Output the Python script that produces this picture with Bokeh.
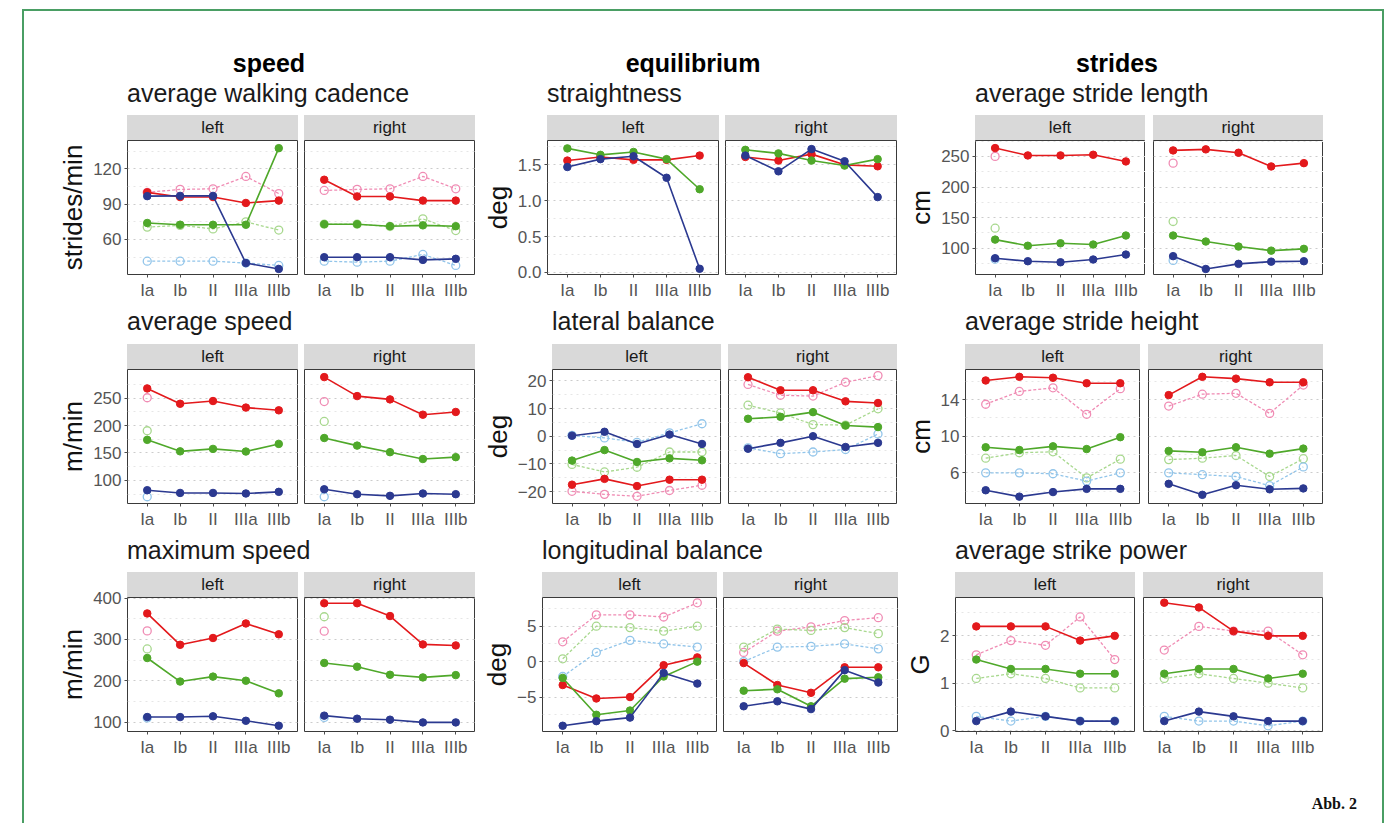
import numpy as np
from bokeh.plotting import figure
from bokeh.models import Range1d, FixedTicker, Grid, Div, Spacer, ColumnDataSource
from bokeh.layouts import row, column
from bokeh.embed import file_html
from bokeh.resources import INLINE

# ---------------- data ----------------
stages = ["Ia", "Ib", "II", "IIIa", "IIIb"]
facets = ["left", "right"]
N = None

# speed / average walking cadence (strides/min)
cadence_left = dict(red=[100, 96, 96, 91, 93], green=[74, 72.5, 72.5, 72.5, 137.5],
                    blue=[96.8, 97, 97, 40, 35], pink=[100, 102.5, 103, 113.5, 99],
                    lightgreen=[70.5, 72, 69, 75, 68], lightblue=[41.6, 41.6, 41.6, 40, 38])
cadence_right = dict(red=[110.7, 96.5, 96.5, 93, 93], green=[73, 73, 71.3, 72, 71.3],
                     blue=[45, 45, 45, 42.7, 43.6], pink=[101.6, 102.5, 103, 113.5, 103],
                     lightgreen=[73, 73, 71, 77.5, 67.6], lightblue=[41.6, 40.8, 41.6, 47.3, 38])
cadence_ticks = [60, 90, 120]
cadence_minor = [45, 75, 105, 135]

# equilibrium / straightness (deg)
straight_left = dict(red=[1.56, 1.61, 1.57, 1.57, 1.63], green=[1.73, 1.64, 1.68, 1.58, 1.16],
                     blue=[1.47, 1.58, 1.62, 1.32, 0.05])
straight_right = dict(red=[1.61, 1.56, 1.65, 1.50, 1.48], green=[1.71, 1.66, 1.56, 1.49, 1.58],
                      blue=[1.63, 1.41, 1.72, 1.55, 1.05])
straight_ticks = [0, 0.5, 1.0, 1.5]
straight_tick_labels = ["0.0", "0.5", "1.0", "1.5"]
straight_minor = [0.25, 0.75, 1.25, 1.75]

# strides / average stride length (cm)
length_left = dict(red=[263.6, 251.6, 251.6, 252.7, 241.8], green=[114, 104, 108, 106, 120.7],
                   blue=[83.6, 78.7, 77, 81.5, 89.6], pink=[250, N, N, N, N],
                   lightgreen=[132.7, N, N, N, N], lightblue=[82, N, N, N, N])
length_right = dict(red=[259.8, 261.5, 256, 233.6, 239], green=[120.7, 110.9, 102.7, 96, 98.9],
                    blue=[87, 66, 74.4, 78, 78.7], pink=[239, N, N, N, N],
                    lightgreen=[143.6, N, N, N, N], lightblue=[80, N, N, N, N])
length_ticks = [100, 150, 200, 250]
length_minor = [75, 125, 175, 225, 275]

# speed / average speed (m/min)
speed_left = dict(red=[268, 240, 245, 233, 228], green=[174, 153, 157.5, 152.7, 166.6],
                  blue=[82, 77, 77, 76, 79], pink=[251, N, N, N, N],
                  lightgreen=[190.7, N, N, N, N], lightblue=[70, N, N, N, N])
speed_right = dict(red=[288.7, 254, 248, 220, 225], green=[177.4, 163.5, 151.5, 139, 142.4],
                   blue=[83.7, 74.7, 71.7, 76, 74.7], pink=[244, N, N, N, N],
                   lightgreen=[207.7, N, N, N, N], lightblue=[70, N, N, N, N])
speed_ticks = [100, 150, 200, 250]
speed_minor = [75, 125, 175, 225, 275]

# equilibrium / lateral balance (deg)
lateral_left = dict(red=[-17.5, -15.4, -18, -15.7, -15.7], green=[-8.8, -5, -9.3, -8, -8.7],
                    blue=[0.2, 1.6, -2.8, 0.6, -2.8], pink=[-19.9, -21, -21.7, -19.6, -17.7],
                    lightgreen=[-10.2, -12.9, -11.2, -5.7, -5.7], lightblue=[0.3, -0.6, -2.2, 1.2, 4.5])
lateral_right = dict(red=[21.3, 16.6, 16.6, 12.6, 12], green=[6.3, 7, 8.7, 3.9, 3.3],
                     blue=[-4.5, -2.4, 0, -3.9, -2.4], pink=[18.7, 14.8, 14.5, 19.5, 21.9],
                     lightgreen=[11.2, 8.4, 4.2, 4, 9.9], lightblue=[-4.2, -6.3, -5.7, -4.8, 0.8])
lateral_ticks = [-20, -10, 0, 10, 20]
lateral_minor = [-15, -5, 5, 15]

# strides / average stride height (cm)
height_left = dict(red=[16.1, 16.5, 16.4, 15.8, 15.8], green=[8.8, 8.5, 8.9, 8.6, 9.9],
                   blue=[4.1, 3.4, 3.9, 4.25, 4.25], pink=[13.5, 14.9, 15.3, 12.4, 15.2],
                   lightgreen=[7.6, 8.2, 8.3, 5.45, 7.5], lightblue=[6, 6, 5.9, 5.1, 6])
height_right = dict(red=[14.5, 16.5, 16.3, 15.9, 15.9], green=[8.4, 8.25, 8.8, 8.1, 8.65],
                    blue=[4.8, 3.6, 4.65, 4.2, 4.3], pink=[13.3, 14.6, 14.7, 12.5, 15.6],
                    lightgreen=[7.45, 7.6, 7.9, 5.6, 7.55], lightblue=[6, 5.8, 5.6, 4.6, 6.65])
height_ticks = [6, 10, 14]
height_minor = [4, 8, 12, 16]

# speed / maximum speed (m/min)
maxspeed_left = dict(red=[363, 287, 303.5, 338.7, 312.5], green=[255, 198, 210, 200, 169.4],
                     blue=[112, 112, 113.8, 103, 91], pink=[320.7, N, N, N, N],
                     lightgreen=[277, N, N, N, N], lightblue=[110, N, N, N, N])
maxspeed_right = dict(red=[387.7, 387.7, 356.7, 288, 285.5], green=[243, 234, 214.4, 208, 213.6],
                      blue=[115.4, 108, 105.6, 99, 99], pink=[320, N, N, N, N],
                      lightgreen=[355, N, N, N, N], lightblue=[111, N, N, N, N])
maxspeed_ticks = [100, 200, 300, 400]
maxspeed_minor = [150, 250, 350]

# equilibrium / longitudinal balance (deg)
longit_left = dict(red=[-3.3, -5.2, -5.0, -0.5, 0.6], green=[-2.3, -7.5, -6.9, -2.1, 0.0],
                   blue=[-9.05, -8.4, -7.9, -1.6, -3.1], pink=[2.8, 6.6, 6.6, 6.3, 8.3],
                   lightgreen=[0.4, 5.0, 4.8, 4.3, 5.0], lightblue=[-2.1, 1.3, 3.0, 2.5, 2.05])
longit_right = dict(red=[-0.2, -3.3, -4.4, -0.8, -0.8], green=[-4.1, -3.9, -6.3, -2.4, -2.2],
                    blue=[-6.3, -5.6, -6.7, -1.2, -2.95], pink=[1.3, 4.3, 4.9, 5.8, 6.2],
                    lightgreen=[2.05, 4.6, 4.4, 4.8, 3.95], lightblue=[0.0, 2.05, 2.15, 2.5, 1.8])
longit_ticks = [-5, 0, 5]
longit_minor = [-7.5, -2.5, 2.5, 7.5]

# strides / average strike power (G)
power_left = dict(red=[2.2, 2.2, 2.2, 1.9, 2.0], green=[1.5, 1.3, 1.3, 1.2, 1.2],
                  blue=[0.2, 0.4, 0.3, 0.2, 0.2], pink=[1.6, 1.9, 1.8, 2.4, 1.5],
                  lightgreen=[1.1, 1.2, 1.1, 0.9, 0.9], lightblue=[0.3, 0.2, 0.3, 0.2, 0.2])
power_right = dict(red=[2.7, 2.6, 2.1, 2.0, 2.0], green=[1.2, 1.3, 1.3, 1.1, 1.2],
                   blue=[0.2, 0.4, 0.3, 0.2, 0.2], pink=[1.7, 2.2, 2.1, 2.1, 1.6],
                   lightgreen=[1.1, 1.2, 1.1, 1.0, 0.9], lightblue=[0.3, 0.2, 0.2, 0.1, 0.2])
power_ticks = [0, 1, 2]
power_minor = [0.5, 1.5, 2.5]

group_titles = ["speed", "equilibrium", "strides"]
footer_text = "Abb. 2"

# ---------------- styles ----------------
SOLID = {"red": "#e3191c", "green": "#4fa82a", "blue": "#2b3990"}
DASHED = {"pink": "#f08cb4", "lightgreen": "#a8d88e", "lightblue": "#92c5ea"}
FONT = "Liberation Sans"
FH = 134      # frame height
SH = 25       # strip height
BB = 26       # bottom border (x axis)
TOP = 10      # transparent top border overlapping the strip
X0 = 24       # content left in page coords
GREEN = "#4a9e64"

# panel specs: (title, ylabel, left data, right data, y range, ticks, minor, tick labels, frame-left x, frame width, gap)
rows_spec = [
    [("average walking cadence", "strides/min", cadence_left, cadence_right, (30.3, 144), cadence_ticks, cadence_minor, None, 127, 171, 6),
     ("straightness", "deg", straight_left, straight_right, (-0.03, 1.84), straight_ticks, straight_minor, straight_tick_labels, 547, 172, 6),
     ("average stride length", "cm", length_left, length_right, (57, 276), length_ticks, length_minor, None, 975, 170, 8)],
    [("average speed", "m/min", speed_left, speed_right, (57.7, 302.6), speed_ticks, speed_minor, None, 127, 171, 6),
     ("lateral balance", "deg", lateral_left, lateral_right, (-24.3, 24.1), lateral_ticks, lateral_minor, None, 552, 169, 7),
     ("average stride height", "cm", height_left, height_right, (2.65, 17.3), height_ticks, height_minor, None, 965, 175, 8)],
    [("maximum speed", "m/min", maxspeed_left, maxspeed_right, (77, 401.6), maxspeed_ticks, maxspeed_minor, None, 127, 171, 6),
     ("longitudinal balance", "deg", longit_left, longit_right, (-9.86, 9.05), longit_ticks, longit_minor, None, 542, 175, 6),
     ("average strike power", "G", power_left, power_right, (-0.02, 2.81), power_ticks, power_minor, None, 955, 180, 8)],
]


def make_facet(data, yr, ticks, minor, tick_labels, w, mb_left, ylabel):
    show_y = ylabel is not None
    p = figure(frame_width=w, frame_height=FH,
               x_range=Range1d(-0.6, len(stages) - 0.4), y_range=Range1d(*yr),
               x_axis_location="below", y_axis_location="left" if show_y else None,
               toolbar_location=None, tools="", output_backend="svg",
               min_border_left=mb_left, min_border_right=0, min_border_top=TOP,
               min_border_bottom=BB, background_fill_color="white",
               border_fill_color=None, outline_line_color="#3a3a3a",
               outline_line_width=1, margin=(-TOP, 0, 0, 0))
    p.grid.visible = False
    p.add_layout(Grid(dimension=1, ticker=FixedTicker(ticks=ticks, minor_ticks=minor),
                      grid_line_color="#cccccc", grid_line_dash="dotted", grid_line_width=1,
                      minor_grid_line_color="#e6e6e6", minor_grid_line_dash="dotted"), "center")
    xa = p.xaxis[0]
    xa.ticker = FixedTicker(ticks=list(range(len(stages))))
    xa.major_label_overrides = {i: s for i, s in enumerate(stages)}
    axes = [xa]
    if show_y:
        ya = p.yaxis[0]
        ya.ticker = FixedTicker(ticks=ticks)
        if tick_labels:
            ya.major_label_overrides = {t: l for t, l in zip(ticks, tick_labels)}
        ya.axis_label = ylabel
        ya.axis_label_text_font = FONT
        ya.axis_label_text_font_size = "26px"
        ya.axis_label_text_font_style = "normal"
        ya.axis_label_text_color = "#111111"
        ya.axis_label_standoff = 2
        axes.append(ya)
    for a in axes:
        a.axis_line_color = None
        a.major_tick_in = 0
        a.major_tick_out = 3
        a.minor_tick_out = 0
        a.minor_tick_in = 0
        a.major_tick_line_color = "#4d4d4d"
        a.major_label_text_font = FONT
        a.major_label_text_font_size = "17px"
        a.major_label_text_color = "#555555"
        a.major_label_standoff = 3
    x = list(range(len(stages)))
    for name, color in DASHED.items():
        if name not in data:
            continue
        src = ColumnDataSource(dict(x=x, y=np.array(data[name], dtype=float)))
        p.line("x", "y", source=src, line_color=color, line_width=1.3, line_dash="3 2")
        p.scatter("x", "y", source=src, size=8, fill_color="white", fill_alpha=0.0,
                  line_color=color, line_width=1.3)
    for name, color in SOLID.items():
        src = ColumnDataSource(dict(x=x, y=np.array(data[name], dtype=float)))
        p.line("x", "y", source=src, line_color=color, line_width=1.6)
        p.scatter("x", "y", source=src, size=7.5, fill_color=color, line_color=color)
    return p


def text_div(txt, w, h, size, weight="normal", align="left", pad=0, family=FONT,
             color="#1a1a1a", lh=28):
    html = (f'<div style="display:block;width:{w}px;padding-top:{pad}px;font-family:\'{family}\';'
            f'font-size:{size}px;font-weight:{weight};text-align:{align};color:{color};'
            f'line-height:{lh}px;white-space:nowrap;margin:0;">{txt}</div>')
    return Div(text=html, width=w, height=h, margin=0)


def strip(label, w):
    html = (f'<div style="display:block;width:{w}px;height:{SH}px;line-height:{SH}px;'
            f'background:#d9d9d9;text-align:center;font-family:\'{FONT}\';font-size:17px;'
            f'color:#1a1a1a;margin:0;">{label}</div>')
    return Div(text=html, width=w, height=SH, margin=0)


def bar(w, h):
    return Div(text="", width=w, height=h, margin=0, styles={"background-color": GREEN})


def placed_row(items, h):
    kids = []
    cur = X0
    for x, el, w in items:
        if x - cur > 0:
            kids.append(Spacer(width=x - cur, height=h))
        kids.append(el)
        cur = x + w
    return row(*kids)


def panel_row(specs):
    items = []
    prev_end = X0
    for (title, ylabel, dl, dr, yr, ticks, minor, tl, lx, w, gap) in specs:
        ml = min(75, lx - prev_end)
        fl = make_facet(dl, yr, ticks, minor, tl, w, ml, ylabel)
        fr = make_facet(dr, yr, ticks, minor, tl, w, gap, None)
        cl = column(row(Spacer(width=ml, height=SH), strip(facets[0], w)), fl)
        cr = column(row(Spacer(width=gap, height=SH), strip(facets[1], w)), fr)
        items.append((lx - ml, cl, ml + w))
        items.append((lx + w, cr, gap + w))
        prev_end = lx + w + gap + w
    return placed_row(items, SH + FH + BB)


def subtitle_row(specs, h, pad):
    items = [(s[8], text_div(s[0], 340, h, 25, pad=pad), 340) for s in specs]
    return placed_row(items, h)


header = placed_row([(169, text_div(group_titles[0], 200, 67, 25, "bold", "center", 38, color="#000"), 200),
                     (593, text_div(group_titles[1], 200, 67, 25, "bold", "center", 38, color="#000"), 200),
                     (1017, text_div(group_titles[2], 200, 67, 25, "bold", "center", 38, color="#000"), 200)], 67)

CW = 1358
FOOT_H = 70
footer = text_div(footer_text, 1357 - X0, FOOT_H, 16, "bold", "right", 35,
                  family="Liberation Serif", color="#111", lh=20)

content = column(
    bar(CW, 2),
    header,
    subtitle_row(rows_spec[0], 37, 1),
    panel_row(rows_spec[0]),
    subtitle_row(rows_spec[1], 42, 5),
    panel_row(rows_spec[1]),
    subtitle_row(rows_spec[2], 41, 5),
    panel_row(rows_spec[2]),
    footer,
)
H = 2 + 67 + 37 + 185 + 42 + 185 + 41 + 185 + FOOT_H

root = column(
    Spacer(width=10, height=9),
    row(Spacer(width=22, height=H), bar(2, H), content, bar(2, H)),
)

open("out.html", "w").write(file_html(root, INLINE))
